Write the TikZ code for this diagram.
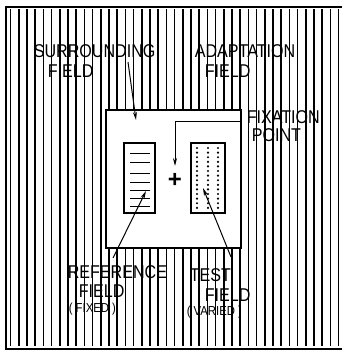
\documentclass[tikz,border=0pt]{standalone}
\usepackage{fontspec}
\newfontfamily\narrowsf[FakeStretch=0.87]{Liberation Sans}
\newfontfamily\plainsf{Liberation Sans}
\usetikzlibrary{arrows.meta}

\begin{document}
\begin{tikzpicture}[x=1pt, y=-1pt, line width=1.6pt,
        lbl/.style={font=\narrowsf\fontsize{18.5}{18.5}\selectfont, inner sep=0pt, anchor=west},
        sub/.style={font=\narrowsf\fontsize{13}{13}\selectfont, inner sep=0pt, anchor=west},
        ptr/.style={line width=1pt, -{Stealth[length=8pt,width=4pt]}}]
  \useasboundingbox (0,0) rectangle (342,351);
  \def\gap{8.2}  % spacing of the hatching lines
  % hatched adaptation field
  \foreach \i in {0,...,40}
    \draw ({10.5+\i*\gap},9) -- ({10.5+\i*\gap},346);
  \draw (342,7) -- (6,7) -- (6,349) -- (342,349);
  % white surround
  \filldraw[fill=white, draw=black, line width=1.6pt] (106,110) rectangle (241,248);
  % reference field (fixed)
  \draw[line width=1.1pt] (124,143) rectangle (155,213);
  \foreach \y in {153,162,173,182,190,198,206}
    \draw[line width=0.9pt] (130,\y) -- (150,\y);
  % test field (varied)
  \draw[line width=1.1pt] (191,143) rectangle (225,213);
  \foreach \x in {197,208,218}
    \draw[line width=2.4pt, line cap=round, dash pattern=on 0pt off 4.6pt] (\x,148) -- (\x,210);
  % fixation point
  \node[font=\plainsf\bfseries\fontsize{24}{24}\selectfont, inner sep=0pt] (fix) at (175,180) {+};
  % labels
  \node[lbl] (surr)  at (33,51.5)  {SURROUNDING};
  \node[lbl] (surrf) at (47,71)    {FIELD};
  \node[lbl] (adap)  at (194,51)   {ADAPTATION};
  \node[lbl] (adapf) at (204,71)   {FIELD};
  \node[lbl] (fixl)  at (246,117.5){FIXATION};
  \node[lbl] (fixp)  at (251,135.5){POINT};
  \node[lbl] (ref)   at (67,272)   {REFERENCE};
  \node[lbl] (reff)  at (78,291)   {FIELD};
  \node[sub] (refx)  at (68,309)   {( FIXED )};
  \node[lbl] (tst)   at (189,275)  {TEST};
  \node[lbl] (tstf)  at (204,295)  {FIELD};
  \node[sub] (tstv)  at (186,312)  {( VARIED )};
  % pointers
  \coordinate (surrtip) at (136,120);
  \coordinate (fixbend) at (175,121);
  \coordinate (fixtip)  at (175,166);
  \coordinate (reftip)  at (146,191);
  \coordinate (tsttip)  at (203,188);
  \draw[ptr] (128,62) -- (surrtip);
  \draw[ptr] (241,121) -- (fixbend) -- (fixtip);
  \draw[ptr] (113,258) -- (reftip);
  \draw[ptr] (231,257) -- (tsttip);
\end{tikzpicture}
\end{document}
